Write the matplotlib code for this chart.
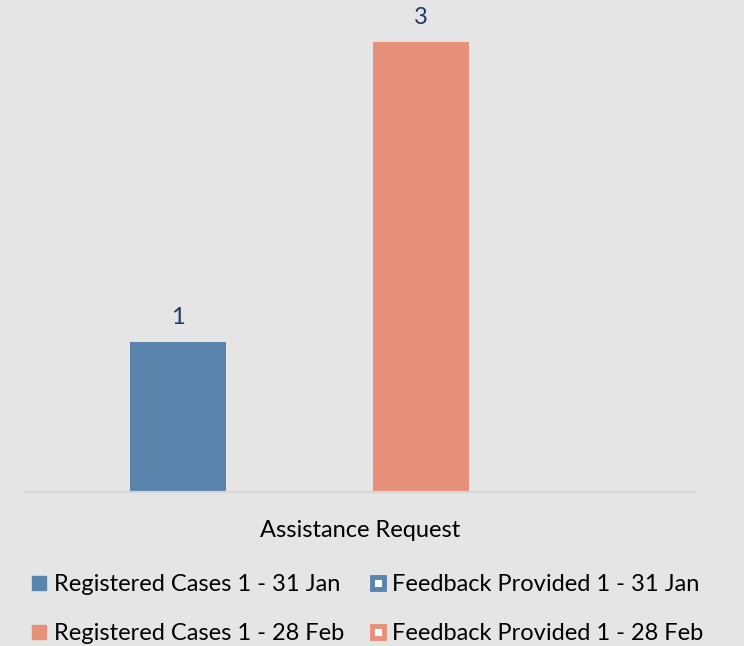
import numpy as np
import matplotlib.pyplot as plt
from matplotlib.lines import Line2D

plt.rcParams['font.family'] = ['Lato', 'DejaVu Sans']

# data
category = 'Assistance Request'
series = ['Registered Cases 1 - 31 Jan', 'Feedback Provided 1 - 31 Jan',
          'Registered Cases 1 - 28 Feb', 'Feedback Provided 1 - 28 Feb']
values = [1, 0, 3, 0]
colors = ['#5B84AC', '#5B84AC', '#E8917A', '#E8917A']
filled = [True, False, True, False]

bg = '#E5E5E5'
fig = plt.figure(figsize=(7.44, 6.46), dpi=100, facecolor=bg)
ax = fig.add_axes([25/744, 1 - 492/646, 670/744, 492/646], facecolor=bg)

x = np.arange(len(values))
bars = ax.bar(x, values, width=0.79, color=colors)
for xi, v in zip(x, values):
    if v > 0:
        ax.text(xi, v + 0.09, str(v), ha='center', va='bottom',
                fontsize=17, color='#1F3864')

ax.set_xlim(-1.26, 4.255)
ax.set_ylim(0, 492/150)
for s in ['top', 'right', 'left']:
    ax.spines[s].set_visible(False)
ax.spines['bottom'].set_color('#D6D6D6')
ax.spines['bottom'].set_linewidth(1.6)
ax.set_yticks([])
ax.set_xticks([1.5])
ax.set_xticklabels([category], fontsize=17)
ax.tick_params(axis='x', length=0, pad=20)

handles = []
for i in [0, 2, 1, 3]:
    if filled[i]:
        h = Line2D([], [], linestyle='none', marker='s', markersize=10.5,
                   markerfacecolor=colors[i], markeredgecolor=colors[i])
    else:
        h = Line2D([], [], linestyle='none', marker='s', markersize=8,
                   markerfacecolor='white', markeredgecolor=colors[i],
                   markeredgewidth=3.5)
    handles.append((h, series[i]))

fig.legend([h for h, _ in handles], [l for _, l in handles], ncol=2,
           loc='upper left', bbox_to_anchor=(30/744, 1 - 574/646),
           frameon=False, borderpad=0, borderaxespad=0,
           fontsize=17, handletextpad=0.2, columnspacing=1.05,
           labelspacing=1.2, handlelength=0.8)

fig.savefig('out.png', dpi=100, facecolor=bg)
